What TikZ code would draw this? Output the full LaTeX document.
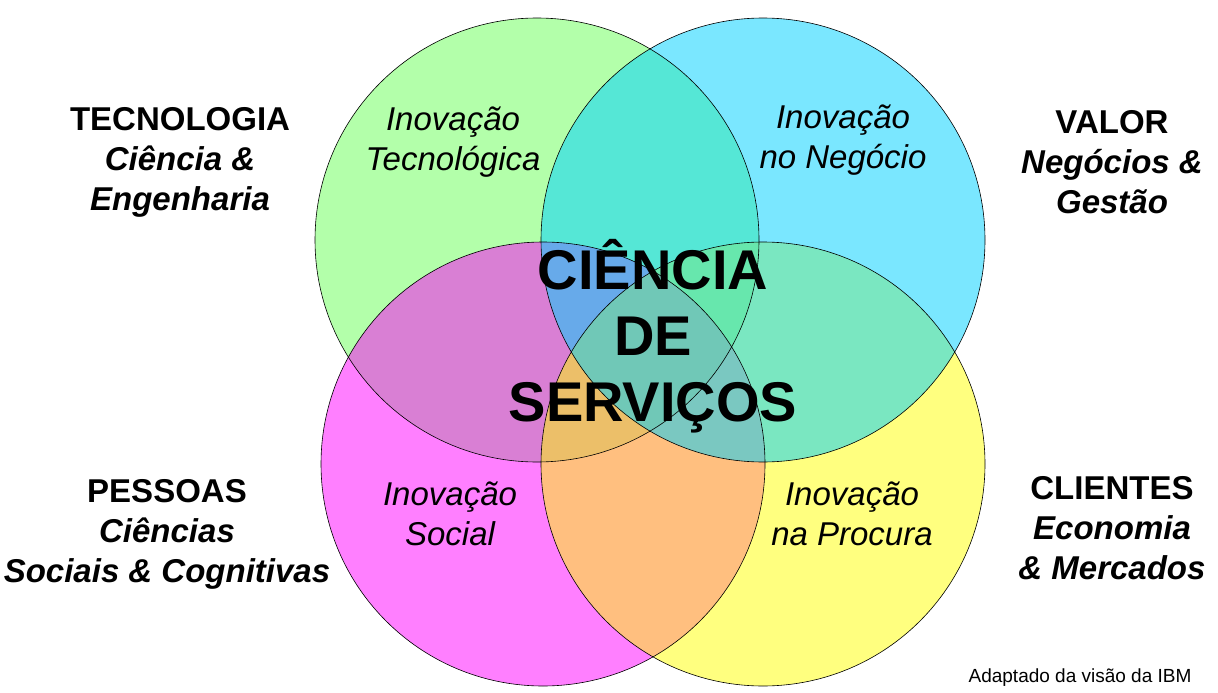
\documentclass[tikz,border=0pt]{standalone}
\usepackage{fontspec}
\setmainfont{Liberation Sans}
\begin{document}
\begin{tikzpicture}[x=1pt,y=-1pt,
 lab/.style={font=\fontsize{33}{40}\selectfont\itshape,align=center},
 side/.style={font=\fontsize{33}{40}\selectfont\bfseries\itshape,align=center}]
\useasboundingbox[fill=white] (0,0) rectangle (1218,693);
\fill[fill={rgb,255:red,179;green,255;blue,170}] (537,240) circle (222);
\fill[fill={rgb,255:red,255;green,0;blue,255},fill opacity=0.5] (543,464) circle (222);
\fill[fill={rgb,255:red,255;green,255;blue,0},fill opacity=0.5] (763,464) circle (222);
\fill[fill={rgb,255:red,0;green,210;blue,255},fill opacity=0.52] (763,240) circle (222);
\foreach \p in {(537,240),(763,240),(543,464),(763,464)} \draw[line width=0.6pt] \p circle (222);
\node[lab] (it) at (453,142) {Inovação\\Tecnológica};
\node[lab] (in) at (843,140) {Inovação\\no Negócio};
\node[lab] (is) at (450,514) {Inovação\\Social};
\node[lab] (ip) at (852,514) {Inovação\\na Procura};
\node[side] (tec) at (180,162) {\upshape TECNOLOGIA\\Ciência \&\\Engenharia};
\node[side] (val) at (1112,162) {\upshape VALOR\\Negócios \&\\Gestão};
\node[side] (pes) at (167,534) {\upshape PESSOAS\\Ciências\\Sociais \& Cognitivas};
\node[side] (cli) at (1112,528) {\upshape CLIENTES\\Economia\\\& Mercados};
\node[font=\fontsize{56}{66}\selectfont\bfseries,align=center] (cs) at (653,336) {CIÊNCIA\\DE\\SERVIÇOS};
\node[font=\fontsize{19}{22}\selectfont,anchor=east] (ad) at (1195,678) {Adaptado da visão da IBM};
\end{tikzpicture}
\end{document}
